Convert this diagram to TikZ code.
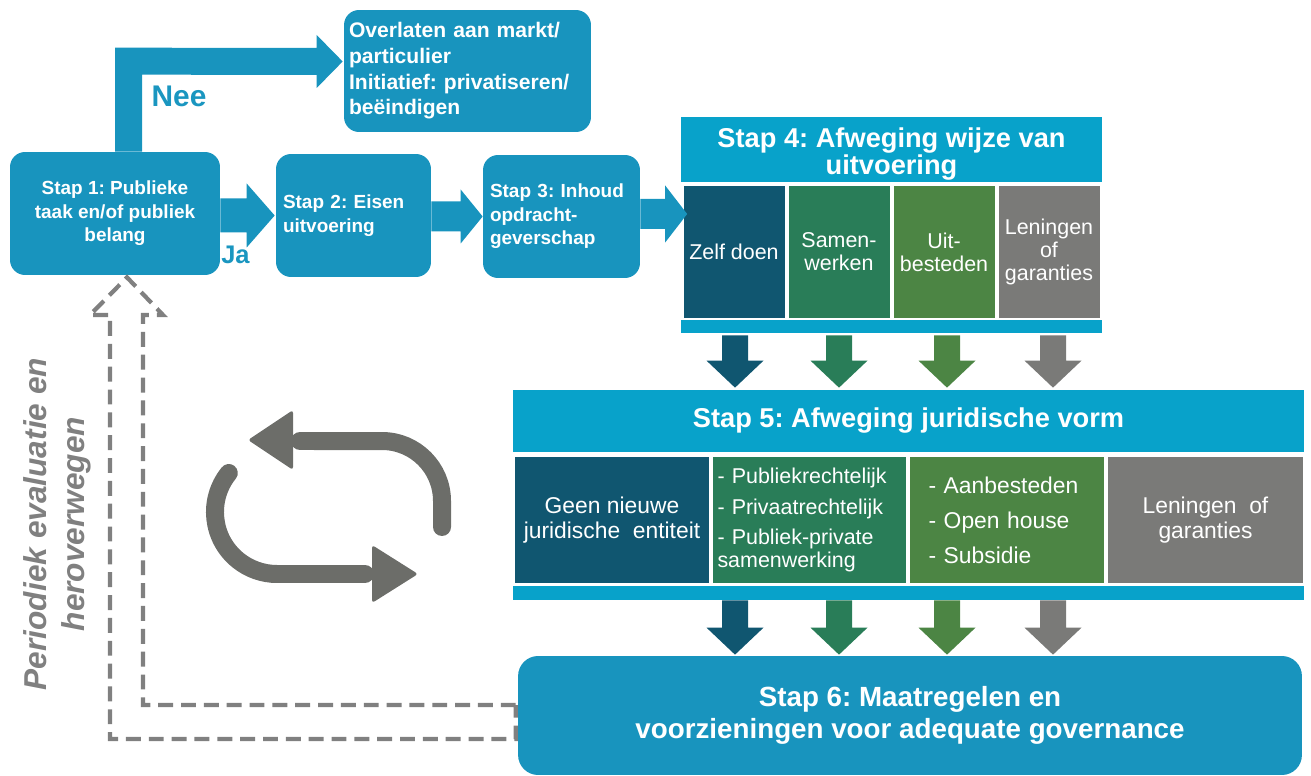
\documentclass[tikz,border=0pt]{standalone}
\usepackage{fontspec}
\setmainfont{Liberation Sans}
\usetikzlibrary{calc}
\frenchspacing
\definecolor{boxblue}{RGB}{24,148,190}
\definecolor{headblue}{RGB}{8,162,202}
\definecolor{cdark}{RGB}{16,86,112}
\definecolor{cgreen}{RGB}{41,125,88}
\definecolor{colive}{RGB}{76,133,68}
\definecolor{cgray}{RGB}{122,122,120}
\definecolor{dashgray}{RGB}{128,128,128}
\definecolor{icongray}{RGB}{108,109,105}
\definecolor{labteal}{RGB}{26,150,192}
\tikzset{
  stepbox/.style={fill=boxblue, rounded corners=0.3cm, text=white, inner sep=0pt,
    font=\bfseries\fontsize{10.8}{13.4}\selectfont},
  headbox/.style={fill=headblue, text=white, inner sep=0pt, align=center,
    font=\bfseries\fontsize{15.5}{15.4}\selectfont},
  colbox/.style={text=white, inner sep=0pt, align=center},
  barbox/.style={fill=headblue, inner sep=0pt},
  dashline/.style={draw=dashgray, line width=2.4pt, dash pattern=on 8.5pt off 4.5pt, line join=miter},
  iconline/.style={draw=icongray, line width=0.36cm, line cap=round},
}
\newcommand\downblk[3]{%
  \fill[#1] ($(#2)+(-13,0)$) -- ($(#2)+(13,0)$) -- ($(#3)+(13,-27)$) -- ($(#3)+(28.5,-27)$)
    -- (#3) -- ($(#3)+(-28.5,-27)$) -- ($(#3)+(-13,-27)$) -- cycle;}
\newcommand\rightblk[6]{%
  \fill[#1] ($(#2)+(0,-#4)$) -- ($(#3)+(-#6,-#4)$) -- ($(#3)+(-#6,-#5)$) -- (#3)
    -- ($(#3)+(-#6,#5)$) -- ($(#3)+(-#6,#4)$) -- ($(#2)+(0,#4)$) -- cycle;}
\begin{document}
\begin{tikzpicture}[x=0.02cm, y=-0.02cm]
\useasboundingbox (0,0) rectangle (1311,776);

% top flow
\node[stepbox, minimum width=4.2cm, minimum height=2.46cm, align=center] (s1) at (115,213.5)
  {Stap 1: Publieke\\taak en/of publiek\\belang};
\node[stepbox, text width=2.82cm, inner xsep=0.14cm, minimum height=2.46cm, align=left] (s2) at (353.5,215.5)
  {Stap 2: Eisen\\uitvoering};
\node[stepbox, text width=2.86cm, inner xsep=0.14cm, minimum height=2.46cm, align=left] (s3) at (561.5,216.5)
  {Stap 3: Inhoud\\opdracht-\\geverschap};
\node[stepbox, text width=4.74cm, inner xsep=0.1cm, minimum height=2.44cm, align=left,
  font=\bfseries\fontsize{12}{14.6}\selectfont] (ov) at (467.5,71)
  {Overlaten aan markt/\\particulier\\Initiatief: privatiseren/\\beëindigen};

\node[font=\bfseries\fontsize{17}{20}\selectfont, text=labteal, inner sep=0pt] (nee) at (179,96.5) {Nee};
\node[font=\bfseries\fontsize{14.5}{17}\selectfont, text=labteal, inner sep=0pt] (ja) at (235.5,255) {Ja};

% step 4
\node[headbox, minimum width=8.42cm, minimum height=1.3cm] (s4h) at (891.5,149.5) {};
\node[headbox, fill=none] (s4t) at (891.5,154) {Stap 4: Afweging wijze van\\uitvoering};
\begin{scope}[every node/.style={colbox, minimum width=2.02cm, minimum height=2.64cm,
    font=\fontsize{12.2}{13}\selectfont}]
  \node[fill=cdark]  (c41) at (734,252)   {Zelf doen};
  \node[fill=cgreen] (c42) at (839,252)   {Samen-\\werken};
  \node[fill=colive] (c43) at (944,252)   {Uit-\\besteden};
  \node[fill=cgray]  (c44) at (1049,252)  {Leningen\\of\\garanties};
\end{scope}
\node[barbox, minimum width=8.42cm, minimum height=0.26cm] (s4b) at (891.5,326.5) {};

% step 5
\node[headbox, minimum width=15.82cm, minimum height=1.24cm] (s5h) at (908.5,421)
  {Stap 5: Afweging juridische vorm};
\node[colbox, fill=cdark, minimum width=3.88cm, minimum height=2.52cm,
  font=\fontsize{13}{14.2}\selectfont] (c51) at (612,520)
  {Geen nieuwe\\juridische\ \ entiteit};
\node[colbox, fill=cgreen, minimum width=3.88cm, minimum height=2.52cm, text width=3.68cm,
  inner xsep=0.1cm, align=left, font=\fontsize{12.2}{13.1}\selectfont] (c52) at (809.5,520)
  {- Publiekrechtelijk\\[4.5pt]- Privaatrechtelijk\\[4.5pt]- Publiek-private\\samenwerking};
\node[colbox, fill=colive, minimum width=3.9cm, minimum height=2.52cm, text width=3.14cm,
  inner xsep=0.38cm, align=left, font=\fontsize{13}{20}\selectfont] (c53) at (1007,520)
  {- Aanbesteden\\- Open house\\- Subsidie};
\node[colbox, fill=cgray, minimum width=3.9cm, minimum height=2.52cm,
  font=\fontsize{13}{14.2}\selectfont] (c54) at (1205.5,520)
  {Leningen\ \ of\\garanties};
\node[barbox, minimum width=15.82cm, minimum height=0.28cm] (s5b) at (908.5,593) {};

% step 6
\node[fill=boxblue, rounded corners=0.4cm, text=white, inner sep=0pt, align=center,
  minimum width=15.68cm, minimum height=2.38cm,
  font=\bfseries\fontsize{15.8}{18}\selectfont] (s6) at (910,715.5)
  {Stap 6: Maatregelen en\\voorzieningen voor adequate governance};

% horizontal block arrows
\path (s1.east |- s2.west) coordinate (jas);
\path (s2.west) ++(-1,0) coordinate (jat);
\rightblk{boxblue}{jas}{jat}{17}{32}{28}
\path (s2.east |- s3.west) coordinate (a2s);
\path (s3.west) coordinate (a2t);
\rightblk{boxblue}{a2s}{a2t}{15}{27}{22}
\path (s3.east) ++(0,-2.5) coordinate (a3s);
\path (a3s -| c41.west) ++(4,0) coordinate (a3t);
\rightblk{boxblue}{a3s}{a3t}{15}{28.5}{22}

% Nee bent arrow
\path (s1.north) ++(13.5,0) coordinate (neeb);
\path (ov.west) ++(-1,-9.5) coordinate (neet);
\fill[boxblue] ($(neeb)+(-13.5,0)$) -- ($(neeb)+(-13.5,-104)$) -- ($(neet)+(-26,-13.5)$)
  -- ($(neet)+(-26,-26.5)$) -- (neet) -- ($(neet)+(-26,26.5)$) -- ($(neet)+(-26,13.5)$)
  -- ($(neeb)+(13.5,-77)$) -- ($(neeb)+(13.5,0)$) -- cycle;

% down arrows step 4 -> 5 -> 6
\foreach \n/\xx/\cc in {1/735/cdark, 2/839/cgreen, 3/947/colive, 4/1053/cgray}{
  \path (s4b.south) ++(0,2) coordinate (tmp);
  \path (tmp -| \xx,0) coordinate (u\n s);
  \path (s5h.north -| \xx,0) ++(0,-2) coordinate (u\n t);
  \downblk{\cc}{u\n s}{u\n t}
  \path (s5b.south -| \xx,0) coordinate (v\n s);
  \path (s6.north -| \xx,0) ++(0,-1) coordinate (v\n t);
  \downblk{\cc}{v\n s}{v\n t}
}

% dashed feedback arrow
\path (s1.south) ++(12,2) coordinate (dtip);
\path (s6.west) ++(-2,-10.5) coordinate (dr1);
\path (s6.west) ++(-2,23.5) coordinate (dr2);
\draw[dashline] (dr1) -- (dr1 -| 143,0) -- (143,315) -- (163,315) -- (dtip) -- (90,315)
  -- (110,315) -- (dr2 -| 110,0) -- (dr2) -- cycle;

\node[rotate=90, font=\bfseries\itshape\fontsize{18}{21.6}\selectfont, text=dashgray,
  align=center, inner sep=0pt] (per) at (57,524) {Periodiek evaluatie en\\heroverwegen};

% cycle icon
\draw[iconline] (442,527) -- (442,501) arc[start angle=0, end angle=90, radius=1.2cm] -- (300,441);
\fill[icongray, rounded corners=0.06cm] (293,410) -- (248,440) -- (293,470) -- cycle;
\draw[iconline] (228.8,473) arc[start angle=141, end angle=270, radius=1.24cm] -- (365,574);
\fill[icongray, rounded corners=0.06cm] (372,545) -- (418,574) -- (372,603) -- cycle;
\end{tikzpicture}
\end{document}
